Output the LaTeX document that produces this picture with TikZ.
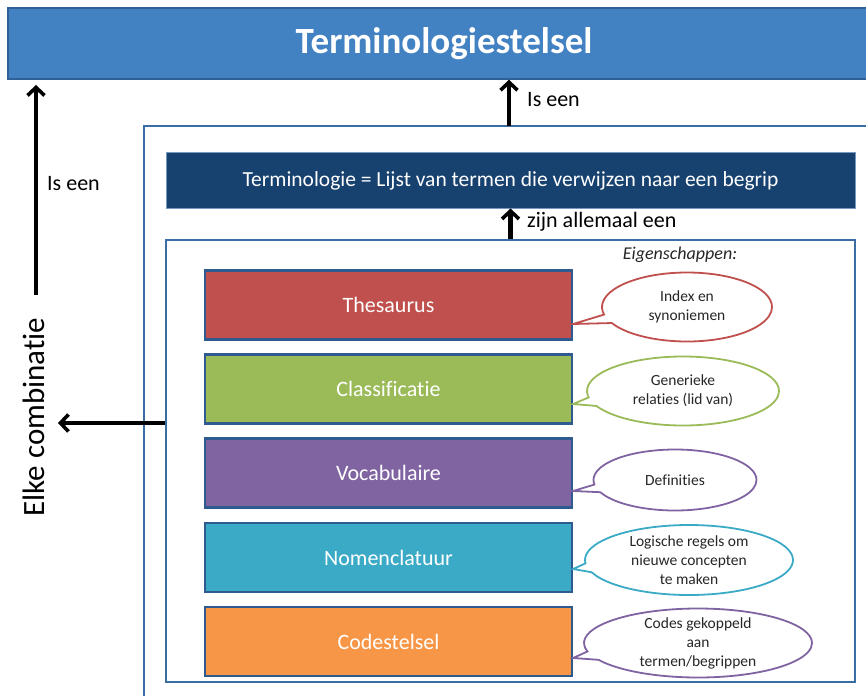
\documentclass[tikz,border=0pt]{standalone}
\usepackage{fontspec}
\setmainfont{Carlito}[Ligatures=NoCommon]
\usetikzlibrary{arrows.meta,shapes.callouts,calc}

\definecolor{barblue}{HTML}{4281C2}
\definecolor{barborder}{HTML}{2F6196}
\definecolor{navy}{HTML}{17416E}
\definecolor{frameblue}{HTML}{3A6DA3}
\definecolor{boxborder}{HTML}{2F5A8F}
\definecolor{cred}{HTML}{C0504D}
\definecolor{cgreen}{HTML}{9BBB59}
\definecolor{cpurple}{HTML}{8064A2}
\definecolor{cteal}{HTML}{3AAAC6}
\definecolor{corange}{HTML}{F79646}
\definecolor{ink}{HTML}{262626}

\begin{document}
\begin{tikzpicture}[x=1pt,y=-1pt,
  kind/.style={draw=boxborder, line width=2.2pt, minimum width=367pt, minimum height=69pt,
    inner sep=0pt, text=white, font=\fontsize{22}{26}\selectfont},
  bubble/.style={ellipse callout, draw=#1, line width=1.8pt, fill=white, inner sep=0pt},
  bubbletext/.style={align=center, inner sep=0pt, text=ink, font=\fontsize{15.5}{19}\selectfont},
  flow/.style={line width=4.5pt, -{Straight Barb[length=8pt,width=17pt,line width=3.6pt]}},
  lbl/.style={font=\fontsize{22}{26}\selectfont, anchor=west, inner sep=0pt, text=black}
]
\useasboundingbox (0,0) rectangle (866,695);
\begin{scope}
\clip (0,0) rectangle (866,695);

% title bar
\node (bar) [fill=barblue, draw=barborder, line width=1.5pt, minimum width=872pt,
  minimum height=71pt, inner sep=0pt, text=white,
  font=\bfseries\fontsize{37}{43}\selectfont] at (444,43.5) {Terminologiestelsel};

% outer frame (runs past the right and bottom edges)
\draw[frameblue, line width=2pt] (144,720) -- (144,126) -- (890,126);
\coordinate (outerTop) at (509,126);

% terminology bar and inner frame
\node (term) [fill=navy, draw=frameblue!70, line width=1pt, minimum width=689pt,
  minimum height=55pt, inner sep=0pt, text=white, font=\fontsize{21.5}{25}\selectfont]
  at (510.5,180.5) {Terminologie = Lijst van termen die verwijzen naar een begrip};
\node (inner) [draw=frameblue, line width=2pt, minimum width=689pt, minimum height=442pt,
  inner sep=0pt] at (510.5,461) {};

% vertical connectors
\draw[flow] (outerTop) -- (outerTop |- bar.south);
\node[lbl] at (527,100) {Is een};
\draw[flow] (inner.north) -- (inner.north |- term.south);
\node[lbl] at (527,222) {zijn allemaal een};

% left side
\node (combo) [rotate=90, inner sep=0pt, font=\fontsize{31}{36}\selectfont] at (34,417) {Elke combinatie};
\coordinate (leftTail) at (36,295);
\coordinate (leftTip) at (36,85);
\draw[flow] (leftTail) -- (leftTip);
\node[lbl] at (47,184) {Is een};
\coordinate (combTip) at (58,423);
\draw[flow] (inner.west |- combTip) -- (combTip);

% properties heading
\node[inner sep=0pt, text=ink, font=\itshape\fontsize{18}{22}\selectfont] at (680,255) {Eigenschappen:};

% terminology kinds
\node[kind, fill=cred]    (thes) at (388.5,305)   {Thesaurus};
\node[kind, fill=cgreen]  (clas) at (388.5,389)   {Classificatie};
\node[kind, fill=cpurple] (voca) at (388.5,473)   {Vocabulaire};
\node[kind, fill=cteal]   (nome) at (388.5,557.5) {Nomenclatuur};
\node[kind, fill=corange] (code) at (388.5,641.5) {Codestelsel};

% property callouts
\node[bubble=cred, minimum width=170pt, minimum height=69pt,
  callout absolute pointer={(thes.east |- 0,324)}] (b1) at (687,307) {};
\node[bubbletext] at (b1.center) {Index en\\synoniemen};

\node[bubble=cgreen, minimum width=192pt, minimum height=69pt,
  callout absolute pointer={(clas.east |- 0,404)}] (b2) at (683,391) {};
\node[bubbletext] at (b2.center) {Generieke\\relaties (lid van)};

\node[bubble=cpurple, minimum width=163pt, minimum height=61pt,
  callout absolute pointer={(voca.east |- 0,491)}] (b3) at (675,480) {};
\node[bubbletext] at (b3.center) {Definities};

\node[bubble=cteal, minimum width=208pt, minimum height=70pt,
  callout absolute pointer={(nome.east |- 0,569)}] (b4) at (689,560) {};
\node[bubbletext] at (b4.center) {Logische regels om\\nieuwe concepten\\te maken};

\node[bubble=cpurple, minimum width=228pt, minimum height=69pt,
  callout absolute pointer={(code.east |- 0,658)}] (b5) at (698,643) {};
\node[bubbletext] at (b5.center) {Codes gekoppeld\\aan\\termen/begrippen};
\end{scope}
\end{tikzpicture}
\end{document}
